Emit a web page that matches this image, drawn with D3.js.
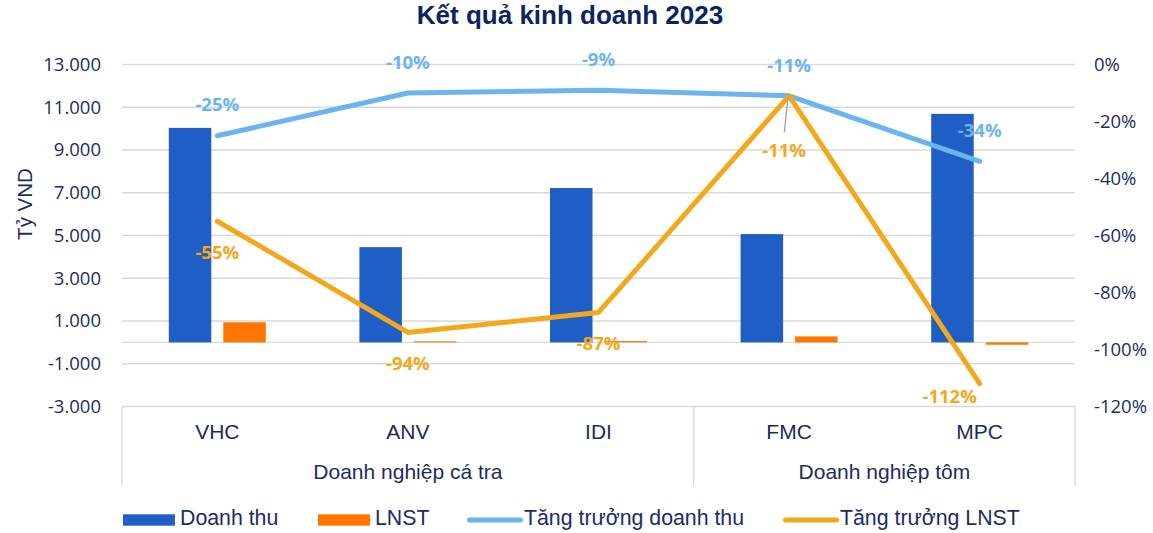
<!DOCTYPE html>
<html>
<head>
<meta charset="utf-8">
<script src="https://cdn.jsdelivr.net/npm/d3@7"></script>
<style>
  body { margin: 0; background: #fff; }
  text { font-family: "Liberation Sans", Arial, sans-serif; fill: #1b2c62; }
  .num text, text.num { font-family: "Open Sans", "Noto Sans", sans-serif; }
</style>
</head>
<body>
<div id="chart"></div>
<script>
// chart data
var categories = ["VHC", "ANV", "IDI", "FMC", "MPC"];
var groupNames = ["Doanh nghiệp cá tra", "Doanh nghiệp tôm"];
var groupSizes = [3, 2];
var revenue = [10035, 4455, 7220, 5065, 10690];
var profit = [940, 50, 60, 280, -110];
var revenueGrowth = [-0.25, -0.10, -0.09, -0.11, -0.34];
var profitGrowth = [-0.55, -0.94, -0.87, -0.11, -1.12];
var leftTicks = [-3000, -1000, 1000, 3000, 5000, 7000, 9000, 11000, 13000];
var rightTicks = [-1.2, -1.0, -0.8, -0.6, -0.4, -0.2, 0];
var seriesNames = ["Doanh thu", "LNST", "Tăng trưởng doanh thu", "Tăng trưởng LNST"];

var colors = ["#1f5ec5", "#ff7600", "#6bb4ef", "#f3a81c"];

var svgWidth = 1153, svgHeight = 533;
var plot = { left: 122, right: 1075, top: 64.5, bottom: 406.5 };

var svg = d3.select("#chart").append("svg")
  .attr("width", svgWidth)
  .attr("height", svgHeight);

var locale = d3.formatLocale({ decimal: ",", thousands: ".", grouping: [3], currency: ["", ""], minus: "-" });
var fmtNum = locale.format(",");
var fmtPct = function(d) { return Math.round(d * 100) + "%"; };

// scales
var x = d3.scaleBand().domain(categories).range([plot.left, plot.right]).padding(0);
var xSub = d3.scaleBand().domain(["rev", "lnst"])
  .range([x.bandwidth() / 2 - 48.5, x.bandwidth() / 2 + 48.5])
  .paddingInner(0.22);
var yLeft = d3.scaleLinear().domain([-3000, 13000]).range([plot.bottom, plot.top]);
var yRight = d3.scaleLinear().domain([-1.2, 0]).range([plot.bottom, plot.top]);

// gridlines
svg.append("g").selectAll("line")
  .data(leftTicks.concat([0]))
  .enter().append("line")
  .attr("x1", plot.left).attr("x2", plot.right)
  .attr("y1", d => yLeft(d)).attr("y2", d => yLeft(d))
  .attr("stroke", "#d9d9d9").attr("stroke-width", 1.3);

// category box
var boundaries = [0];
groupSizes.forEach(function(n) { boundaries.push(boundaries[boundaries.length - 1] + n); });
svg.append("g").selectAll("line")
  .data(boundaries)
  .enter().append("line")
  .attr("x1", d => plot.left + d * x.step()).attr("x2", d => plot.left + d * x.step())
  .attr("y1", plot.bottom).attr("y2", 486)
  .attr("stroke", "#d9d9d9").attr("stroke-width", 1.3);

// axes
var leftAxis = svg.append("g").attr("class", "num")
  .attr("transform", "translate(101,0)")
  .call(d3.axisLeft(yLeft).tickValues(leftTicks).tickSize(0).tickPadding(0).tickFormat(fmtNum));
var rightAxis = svg.append("g").attr("class", "num")
  .attr("transform", "translate(1094,0)")
  .call(d3.axisRight(yRight).tickValues(rightTicks).tickSize(0).tickPadding(0).tickFormat(fmtPct));
[leftAxis, rightAxis].forEach(function(a) {
  a.select(".domain").remove();
  a.selectAll("text").attr("font-size", 18.5).attr("fill", "#1b2c62")
    .attr("font-family", "'Open Sans', 'Noto Sans', sans-serif");
});

// bars
var barData = categories.map(function(c, i) { return { cat: c, rev: revenue[i], lnst: profit[i] }; });
var barGroups = svg.append("g").selectAll("g")
  .data(barData)
  .enter().append("g")
  .attr("transform", d => "translate(" + x(d.cat) + ",0)");
barGroups.selectAll("rect")
  .data(d => [{ key: "rev", v: d.rev }, { key: "lnst", v: d.lnst }])
  .enter().append("rect")
  .attr("x", d => xSub(d.key))
  .attr("width", xSub.bandwidth())
  .attr("y", d => Math.min(yLeft(d.v), yLeft(0)))
  .attr("height", d => Math.abs(yLeft(d.v) - yLeft(0)))
  .attr("fill", d => d.key === "rev" ? colors[0] : colors[1]);

// lines
var line = d3.line()
  .x((d, i) => x(categories[i]) + x.bandwidth() / 2)
  .y(d => yRight(d));
[revenueGrowth, profitGrowth].forEach(function(series, k) {
  svg.append("path")
    .datum(series)
    .attr("d", line)
    .attr("fill", "none")
    .attr("stroke", colors[2 + k])
    .attr("stroke-width", 5)
    .attr("stroke-linecap", "round")
    .attr("stroke-linejoin", "round");
});

// data labels
function px(i) { return x(categories[i]) + x.bandwidth() / 2; }
svg.append("g").selectAll("text")
  .data(revenueGrowth)
  .enter().append("text")
  .attr("class", "num")
  .attr("x", (d, i) => px(i))
  .attr("y", d => yRight(d) - 31)
  .attr("dy", "0.36em")
  .attr("text-anchor", "middle")
  .attr("font-size", 18.5).attr("font-weight", "bold")
  .style("fill", colors[2])
  .text(fmtPct);

// profit labels: below the point; FMC sits under a leader line, MPC below-left
var profitLabelShift = [[0, 31], [0, 31], [0, 31], [-5, 54], [-30, 13]];
svg.append("line")
  .attr("x1", px(3) - 0.8).attr("y1", yRight(profitGrowth[3]) - 1)
  .attr("x2", px(3) - 4.8).attr("y2", yRight(profitGrowth[3]) + 36.5)
  .attr("stroke", "#a6a6a6").attr("stroke-width", 1.4);
svg.append("g").selectAll("text")
  .data(profitGrowth)
  .enter().append("text")
  .attr("class", "num")
  .attr("x", (d, i) => px(i) + profitLabelShift[i][0])
  .attr("y", (d, i) => yRight(d) + profitLabelShift[i][1])
  .attr("dy", "0.36em")
  .attr("text-anchor", "middle")
  .attr("font-size", 18.5).attr("font-weight", "bold")
  .style("fill", colors[3])
  .text(fmtPct);

// category labels
svg.append("g").selectAll("text")
  .data(categories)
  .enter().append("text")
  .attr("x", d => x(d) + x.bandwidth() / 2)
  .attr("y", 439)
  .attr("text-anchor", "middle")
  .attr("font-size", 21)
  .text(d => d);
svg.append("g").selectAll("text")
  .data(groupNames)
  .enter().append("text")
  .attr("x", (d, i) => plot.left + (boundaries[i] + boundaries[i + 1]) / 2 * x.step())
  .attr("y", 479)
  .attr("text-anchor", "middle")
  .attr("font-size", 21)
  .text(d => d);

// axis title
svg.append("text")
  .attr("transform", "translate(32,204) rotate(-90)")
  .attr("text-anchor", "middle")
  .attr("font-size", 20.5)
  .text("Tỷ VND");

// chart title
svg.append("text")
  .attr("x", 570)
  .attr("y", 24)
  .attr("text-anchor", "middle")
  .attr("font-size", 26)
  .attr("font-weight", "bold")
  .style("fill", "#0c2463")
  .text("Kết quả kinh doanh 2023");

// legend
var legendX = [123, 318, 467, 783];
var legend = svg.append("g").selectAll("g")
  .data(seriesNames)
  .enter().append("g")
  .attr("transform", (d, i) => "translate(" + legendX[i] + ",0)");
legend.each(function(d, i) {
  var g = d3.select(this);
  if (i < 2) {
    g.append("rect").attr("x", 0).attr("y", 514.3).attr("width", 52).attr("height", 11.4)
      .attr("fill", colors[i]);
  } else {
    g.append("line").attr("x1", 2.5).attr("x2", 53.5).attr("y1", 520).attr("y2", 520)
      .attr("stroke", colors[i]).attr("stroke-width", 5).attr("stroke-linecap", "round");
  }
  g.append("text").attr("x", 57).attr("y", 524.5).attr("font-size", 21.3).text(d);
});
</script>
</body>
</html>
